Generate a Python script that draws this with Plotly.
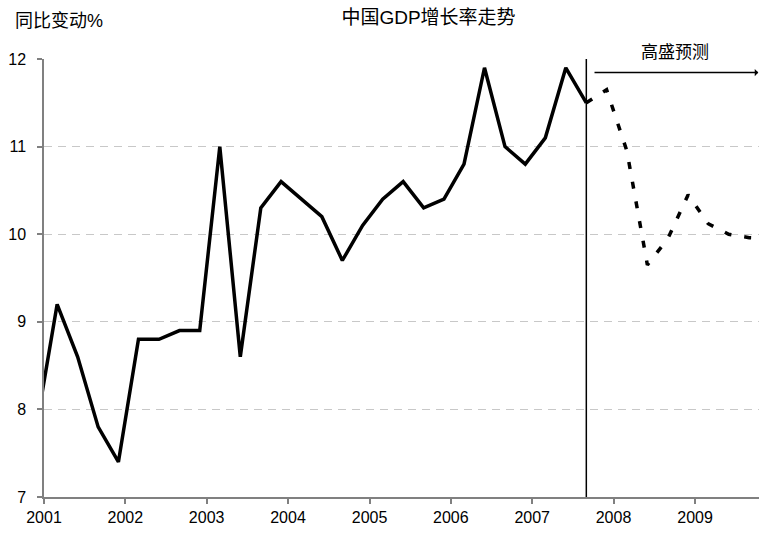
import plotly.graph_objects as go

# ---- data ----
hist_dates = ["2000-12-01",
              "2001-03-01", "2001-06-01", "2001-09-01", "2001-12-01",
              "2002-03-01", "2002-06-01", "2002-09-01", "2002-12-01",
              "2003-03-01", "2003-06-01", "2003-09-01", "2003-12-01",
              "2004-03-01", "2004-06-01", "2004-09-01", "2004-12-01",
              "2005-03-01", "2005-06-01", "2005-09-01", "2005-12-01",
              "2006-03-01", "2006-06-01", "2006-09-01", "2006-12-01",
              "2007-03-01", "2007-06-01", "2007-09-01"]
hist_values = [7.85,
               9.2, 8.6, 7.8, 7.4,
               8.8, 8.8, 8.9, 8.9,
               11.0, 8.6, 10.3, 10.6,
               10.4, 10.2, 9.7, 10.1,
               10.4, 10.6, 10.3, 10.4,
               10.8, 11.9, 11.0, 10.8,
               11.1, 11.9, 11.5]

fc_dates = ["2007-09-01", "2007-12-01",
            "2008-03-01", "2008-06-01", "2008-09-01", "2008-12-01",
            "2009-03-01", "2009-06-01", "2009-09-01", "2009-12-01"]
fc_values = [11.5, 11.65, 10.95, 9.65, 9.95, 10.45, 10.12, 10.0, 9.96, 9.95]

title_text = "中国GDP增长率走势"
y_label = "同比变动%"
fc_label = "高盛预测"
divider_date = "2007-09-01"
x_range = ["2001-01-01", "2009-10-15"]
y_range = [7, 12]

FONT = "Liberation Sans, Arial, Noto Sans CJK SC, sans-serif"

fig = go.Figure()
fig.add_trace(go.Scatter(x=hist_dates, y=hist_values, mode="lines",
                         line=dict(color="black", width=3.5),
                         showlegend=False, hoverinfo="skip"))
fig.add_trace(go.Scatter(x=fc_dates, y=fc_values, mode="lines",
                         line=dict(color="black", width=3.5, dash="7px,13px"),
                         showlegend=False, hoverinfo="skip"))

# vertical divider
fig.add_shape(type="line", xref="x", yref="y", x0=divider_date, x1=divider_date,
              y0=y_range[0], y1=12.04, line=dict(color="black", width=1.5))

# forecast arrow
fig.add_annotation(x="2009-10-12", y=11.845, ax="2007-10-01", ay=11.845,
                   xref="x", yref="y", axref="x", ayref="y",
                   text="", showarrow=True, arrowhead=1, arrowsize=0.8,
                   arrowwidth=1.5, arrowcolor="black")
fig.add_annotation(x="2008-10-02", y=1.015, xref="x", yref="paper",
                   text=fc_label, showarrow=False, bgcolor="white",
                   font=dict(family=FONT, size=17, color="black"),
                   xanchor="center", yanchor="middle")
fig.add_annotation(x=-0.0434, y=1.086, xref="paper", yref="paper",
                   text=y_label, showarrow=False,
                   font=dict(family=FONT, size=18, color="black"),
                   xanchor="left", yanchor="middle")

fig.update_layout(
    width=759, height=537,
    margin=dict(l=44, r=0, t=59, b=40),
    paper_bgcolor="white", plot_bgcolor="white",
    title=dict(text=title_text, x=428.5 / 759, xanchor="center",
               y=1 - 17 / 537, yanchor="middle",
               font=dict(family=FONT, size=19, color="black")),
    font=dict(family=FONT, size=16, color="black"),
    xaxis=dict(type="date", range=x_range, tick0="2001-01-01", dtick="M12",
               tickformat="%Y", showgrid=False, zeroline=False,
               showline=True, linecolor="#808080", linewidth=1.5,
               ticks="outside", ticklen=5, tickcolor="#808080", tickwidth=1.5,
               ticklabelstandoff=0,
               tickfont=dict(family=FONT, size=16, color="black")),
    yaxis=dict(range=y_range, dtick=1, tick0=7, showgrid=True,
               gridcolor="#c8c8c8", griddash="8px,6px", gridwidth=1,
               zeroline=False, showline=True, linecolor="#808080", linewidth=1.5,
               ticks="outside", ticklen=5, tickcolor="#808080", tickwidth=1.5,
               ticklabelstandoff=8,
               tickfont=dict(family=FONT, size=16, color="black")),
)

fig.write_html("out.html", config={"displayModeBar": False},
               post_script="document.body.style.margin='0';document.body.style.overflow='hidden';")
